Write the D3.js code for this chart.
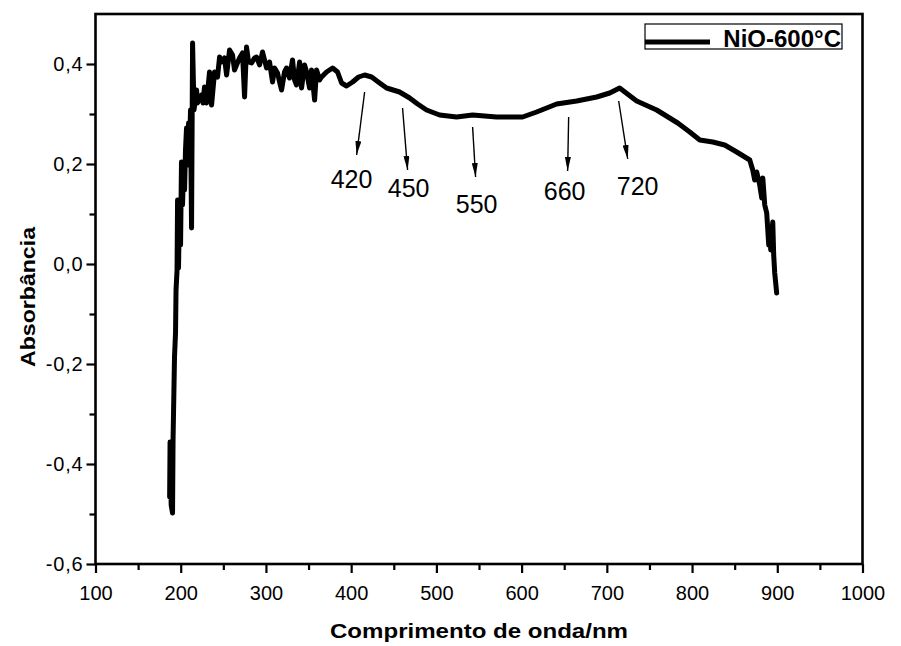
<!DOCTYPE html>
<html>
<head>
<meta charset="utf-8">
<script src="https://cdn.jsdelivr.net/npm/d3@7"></script>
<style>
	body { margin: 0; background: #fff; }
	svg text { font-family: "Liberation Sans", Arial, sans-serif; fill: #000; }
</style>
</head>
<body>
<svg id="chart" width="901" height="646"></svg>
<script>
// spectrum (nm, absorbance)
const wavelength = [
	187, 187.5, 188.8, 190.4, 191, 192.7, 193.9, 194.5, 195.7, 196.3, 197.4, 198.6, 199.8, 200.9,
	202.1, 203.3, 204.5, 205.6, 206.8, 208, 209.2, 210.3, 211.5, 212.7, 213.9, 215.6, 218.6, 219.7,
	224.4, 226.2, 227.9, 230.3, 233.8, 236.2, 239.7, 243.2, 245.6, 247.9, 251.4, 253.8, 257.3, 260.8,
	263.1, 265.5, 269, 272.5, 274.9, 277.2, 279.6, 283.1, 286.6, 289, 292.5, 296, 298.4, 300.7,
	304.2, 307.8, 310.1, 313.6, 316, 318.3, 321.8, 324.2, 327.7, 331.2, 333.6, 335.9, 339.5, 341.8,
	345.3, 347.7, 351.2, 353.5, 357.1, 359.4, 363, 365.3, 371.1, 378.2,
	384, 388.8, 394.6, 401.7, 408.7, 415.8, 424, 433.4, 441.6, 456.8, 468.6, 478, 488.5, 503.8,
	523.7, 542.5, 570.7, 601.2, 617.6, 641.1, 664.6, 688.1, 703.4, 715, 735, 758.5, 783.2, 797.3,
	809.1, 824.3, 838.3, 852.4, 867.7, 871.2, 873.5, 875.9, 879.4, 881.8, 883, 885.3, 887.6, 890,
	891.1, 892.3, 894.7, 895.8, 897, 899.3
]
const absorbance = [
	-0.466, -0.356, -0.482, -0.498, -0.352, -0.186, -0.138, -0.052, -0.012, 0.128, -0.008, 0.118, 0.038, 0.204,
	0.118, 0.184, 0.148, 0.228, 0.272, 0.198, 0.282, 0.228, 0.308, 0.072, 0.442, 0.308, 0.348, 0.322,
	0.338, 0.322, 0.354, 0.322, 0.384, 0.318, 0.384, 0.374, 0.414, 0.404, 0.412, 0.378, 0.428, 0.418,
	0.388, 0.398, 0.412, 0.422, 0.334, 0.434, 0.404, 0.402, 0.412, 0.414, 0.398, 0.424, 0.408, 0.392,
	0.404, 0.364, 0.392, 0.382, 0.364, 0.348, 0.384, 0.392, 0.372, 0.408, 0.368, 0.358, 0.404, 0.352,
	0.398, 0.384, 0.352, 0.388, 0.328, 0.388, 0.368, 0.374, 0.384, 0.392,
	0.384, 0.362, 0.356, 0.364, 0.374, 0.378, 0.374, 0.362, 0.352, 0.344, 0.332, 0.32, 0.308, 0.298,
	0.294, 0.298, 0.294, 0.294, 0.304, 0.32, 0.326, 0.334, 0.342, 0.352, 0.326, 0.308, 0.282, 0.264,
	0.248, 0.244, 0.238, 0.224, 0.208, 0.188, 0.168, 0.184, 0.158, 0.132, 0.172, 0.118, 0.102, 0.038,
	0.07, 0.028, 0.084, 0.018, -0.018, -0.058
]

const xTicks = [100, 200, 300, 400, 500, 600, 700, 800, 900, 1000]
const xMinor = [150, 250, 350, 450, 550, 650, 750, 850, 950]
const yTicks = [-0.6, -0.4, -0.2, 0.0, 0.2, 0.4]
const yMinor = [-0.5, -0.3, -0.1, 0.1, 0.3]

// band annotations: label, text anchor (nm, abs), arrow from -> to
const bandLabels = ['420', '450', '550', '660', '720']
const bandText = [[400.5, 0.152], [467.4, 0.134], [547.2, 0.102], [650.5, 0.128], [736.2, 0.138]]
const bandArrowFrom = [[415.8, 0.344], [460.3, 0.312], [542.5, 0.274], [655.2, 0.294], [713.9, 0.326]]
const bandArrowTo = [[406.4, 0.218], [466.2, 0.188], [546, 0.174], [654, 0.186], [724.5, 0.21]]

const seriesName = 'NiO-600°C'

const svg = d3.select('#chart')
const plotL = 95.5, plotR = 862.5, plotT = 14, plotB = 564

const x = d3.scaleLinear().domain([100, 1000]).range([plotL, plotR])
const y = d3.scaleLinear().domain([-0.6, 0.5]).range([plotB, plotT])

const fmt = v => d3.format('.1f')(v).replace('−', '-').replace('.', ',')

// axes (ticks outward, no domain path; frame drawn below)
const gx = svg.append('g').attr('transform', `translate(0,${plotB})`)
	.call(d3.axisBottom(x).tickValues(xTicks).tickSize(9).tickPadding(13).tickFormat(d3.format('d')))
gx.append('g').call(d3.axisBottom(x).tickValues(xMinor).tickSize(6).tickFormat(''))

const gy = svg.append('g').attr('transform', `translate(${plotL},0)`)
	.call(d3.axisLeft(y).tickValues(yTicks).tickSize(9).tickPadding(3).tickFormat(fmt))
gy.append('g').call(d3.axisLeft(y).tickValues(yMinor).tickSize(6).tickFormat(''))

svg.selectAll('.domain').remove()
svg.selectAll('.tick line').attr('stroke', '#000').attr('stroke-width', 2.2)
svg.selectAll('.tick text')
	.style('font-size', '20px')
	.style('font-family', '"Liberation Sans", Arial, sans-serif')
	.attr('fill', '#000')
gy.selectAll('.tick text').style('letter-spacing', '0.8px')

svg.append('rect')
	.attr('x', plotL).attr('y', plotT)
	.attr('width', plotR - plotL).attr('height', plotB - plotT)
	.attr('fill', 'none').attr('stroke', '#000').attr('stroke-width', 2.6)

// spectrum
const pts = wavelength.map((w, i) => [w, absorbance[i]])
svg.append('path')
	.datum(pts)
	.attr('d', d3.line().x(d => x(d[0])).y(d => y(d[1])))
	.attr('fill', 'none')
	.attr('stroke', '#000')
	.attr('stroke-width', 5)
	.attr('stroke-linejoin', 'round')
	.attr('stroke-linecap', 'round')

// arrows
svg.append('defs').append('marker')
	.attr('id', 'head')
	.attr('viewBox', '0 0 14 6')
	.attr('refX', 14).attr('refY', 3)
	.attr('markerWidth', 10).attr('markerHeight', 4.3)
	.attr('markerUnits', 'strokeWidth')
	.attr('orient', 'auto')
	.append('path').attr('d', 'M0,0 L14,3 L0,6 z').attr('fill', '#000')

bandLabels.forEach((lab, i) => {
	svg.append('line')
		.attr('x1', x(bandArrowFrom[i][0])).attr('y1', y(bandArrowFrom[i][1]))
		.attr('x2', x(bandArrowTo[i][0])).attr('y2', y(bandArrowTo[i][1]))
		.attr('stroke', '#000').attr('stroke-width', 1.4)
		.attr('marker-end', 'url(#head)')
	svg.append('text')
		.attr('x', x(bandText[i][0])).attr('y', y(bandText[i][1]))
		.attr('text-anchor', 'middle')
		.style('font-size', '25px')
		.text(lab)
})

// legend
const lg = svg.append('g')
lg.append('rect')
	.attr('x', 645).attr('y', 24).attr('width', 197).attr('height', 25)
	.attr('fill', '#fff').attr('stroke', '#000').attr('stroke-width', 1.2)
lg.append('line')
	.attr('x1', 645).attr('x2', 710).attr('y1', 42).attr('y2', 42)
	.attr('stroke', '#000').attr('stroke-width', 5)
lg.append('text')
	.attr('x', 841).attr('y', 47)
	.attr('text-anchor', 'end')
	.style('font-size', '24px').style('font-weight', 'bold')
	.text(seriesName)

// axis titles
svg.append('text')
	.attr('x', 479).attr('y', 638)
	.attr('text-anchor', 'middle')
	.attr('textLength', 298).attr('lengthAdjust', 'spacingAndGlyphs')
	.style('font-size', '21px').style('font-weight', 'bold')
	.text('Comprimento de onda/nm')

svg.append('text')
	.attr('transform', 'translate(35,297) rotate(-90)')
	.attr('text-anchor', 'middle')
	.attr('textLength', 140).attr('lengthAdjust', 'spacingAndGlyphs')
	.style('font-size', '21px').style('font-weight', 'bold')
	.text('Absorbância')
</script>
</body>
</html>
